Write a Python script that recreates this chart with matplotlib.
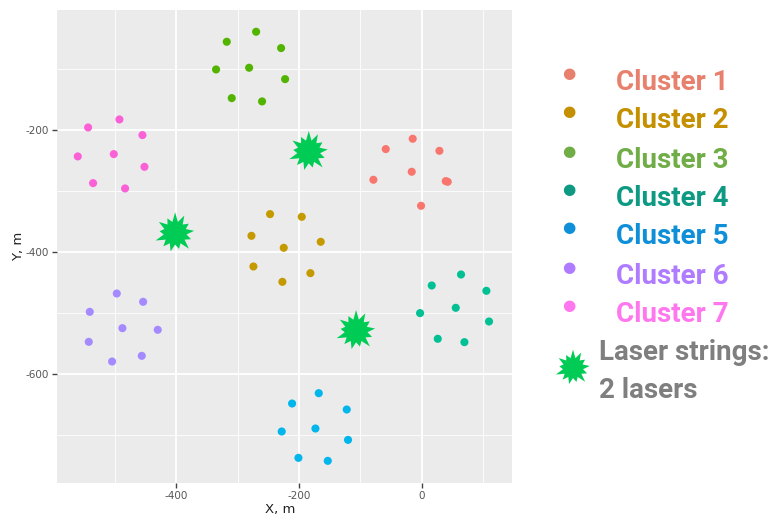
import numpy as np
import matplotlib
matplotlib.use("Agg")
import matplotlib.pyplot as plt
from matplotlib.path import Path
from matplotlib.ticker import MultipleLocator

plt.rcParams["axes.unicode_minus"] = False

# ---- data ----
cluster_names = ["Cluster 1", "Cluster 2", "Cluster 3", "Cluster 4",
                 "Cluster 5", "Cluster 6", "Cluster 7"]
c1_x = [-14.7, -58.6, 28.8, -16.3, -78.7, 39.1, 42.3, -1.1]
c1_y = [-214.7, -231.6, -234.4, -268.7, -281.8, -284.0, -285.1, -324.4]
c2_x = [-247.0, -195.4, -277.3, -164.5, -224.7, -274.1, -181.3, -226.9]
c2_y = [-338.0, -342.4, -373.5, -383.3, -393.1, -423.7, -434.6, -448.8]
c3_x = [-269.7, -317.5, -229.0, -334.9, -281.1, -222.5, -309.4, -260.0]
c3_y = [-39.6, -56.0, -66.3, -101.3, -98.5, -117.1, -148.2, -153.6]
c4_x = [64.0, 16.3, 105.3, 55.4, -2.7, 109.6, 26.1, 69.5]
c4_y = [-436.8, -454.8, -463.5, -491.3, -500.0, -513.7, -542.0, -547.5]
c5_x = [-167.7, -211.1, -122.1, -228.0, -173.1, -120.0, -200.8, -153.0]
c5_y = [-631.0, -647.9, -657.7, -693.7, -688.8, -707.4, -736.8, -741.7]
c6_x = [-496.6, -453.7, -540.6, -487.4, -429.9, -542.2, -455.9, -504.2]
c6_y = [-467.9, -481.5, -497.9, -524.6, -527.3, -547.0, -569.9, -579.2]
c7_x = [-492.3, -543.3, -454.8, -560.1, -501.5, -451.5, -535.2, -483.1]
c7_y = [-183.1, -196.2, -208.7, -243.6, -239.8, -260.6, -287.3, -296.0]
laser_x = [-184.0, -401.6, -106.9]
laser_y = [-236.0, -369.1, -529.0]
laser_label = ["Laser strings:", "2 lasers"]

xs = [c1_x, c2_x, c3_x, c4_x, c5_x, c6_x, c7_x]
ys = [c1_y, c2_y, c3_y, c4_y, c5_y, c6_y, c7_y]
point_colors = ["#F8766D", "#C49A00", "#53B400", "#00C094",
                "#00B6EB", "#A58AFF", "#FB61D7"]
legend_colors = ["#E8806E", "#C49000", "#70AD47", "#0E9A82",
                 "#0E8FD8", "#B07CFF", "#FF77EE"]

# explosion marker shape
n_spikes = 13
radii_out = [1.0, 0.8, 0.95, 0.75, 1.0, 0.85, 0.9, 0.78, 1.0, 0.82, 0.92, 0.8, 0.95]
verts = []
for i in range(n_spikes):
    a_out = 2 * np.pi * i / n_spikes + np.pi / 2
    a_in = 2 * np.pi * (i + 0.5) / n_spikes + np.pi / 2
    verts.append((radii_out[i] * np.cos(a_out), radii_out[i] * np.sin(a_out)))
    verts.append((0.55 * np.cos(a_in), 0.55 * np.sin(a_in)))
verts.append(verts[0])
codes = [Path.MOVETO] + [Path.LINETO] * (len(verts) - 2) + [Path.CLOSEPOLY]
star_path = Path(verts, codes)
star_color = "#00CC55"

# ---- figure ----
fig = plt.figure(figsize=(7.74, 5.15), dpi=100)
ax = fig.add_axes([0.0736, 0.0621, 0.5879, 0.9185])
ax.set_facecolor("#EBEBEB")
for s in ax.spines.values():
    s.set_visible(False)

ax.set_xlim(-594, 147)
ax.set_ylim(-778, -4)
ax.xaxis.set_major_locator(MultipleLocator(200))
ax.xaxis.set_minor_locator(MultipleLocator(100))
ax.yaxis.set_major_locator(MultipleLocator(200))
ax.yaxis.set_minor_locator(MultipleLocator(100))
ax.grid(which="major", color="white", linewidth=1.3)
ax.grid(which="minor", color="white", linewidth=0.6)
ax.set_axisbelow(True)
ax.tick_params(which="major", length=3.5, color="#444444", width=1.0,
               labelsize=7.5, labelcolor="#555555", pad=2)
ax.tick_params(which="minor", length=0)

for x, y, c in zip(xs, ys, point_colors):
    ax.scatter(x, y, s=34, color=c, edgecolors="none", zorder=3)
ax.scatter(laser_x, laser_y, marker=star_path, s=900, color=star_color,
           edgecolors="none", zorder=4)

ax.set_xlabel("X, m", fontsize=9.5, color="#222222")
ax.set_ylabel("Y, m", fontsize=9.5, color="#222222", labelpad=1)
ax.xaxis.set_label_coords(0.49, -0.056, transform=ax.transAxes)
ax.xaxis.label.set_va("center")

# ---- legend (manual, figure coords) ----
fig_w, fig_h = 774, 515
dot_x = 569
text_x = 616
row_y = [74, 112, 151, 189, 227, 267, 305]
for name, c, yy in zip(cluster_names, legend_colors, row_y):
    fig.text(dot_x / fig_w, 1 - yy / fig_h, "\u25CF", color=c, fontsize=11,
             ha="center", va="center", family="DejaVu Sans")
    fig.text(text_x / fig_w, 1 - (yy + 9) / fig_h, name, color=c,
             fontsize=20, fontweight="bold", family="Roboto",
             ha="left", va="center")

leg_ax = fig.add_axes([548 / fig_w, 1 - 388 / fig_h, 50 / fig_w, 40 / fig_h])
leg_ax.set_xlim(0, 1)
leg_ax.set_ylim(0, 1)
leg_ax.axis("off")
leg_ax.scatter([0.5], [0.5], marker=star_path, s=700, color=star_color,
               edgecolors="none")
fig.text(599 / fig_w, 1 - 353 / fig_h, laser_label[0], color="#7F7F7F",
         fontsize=20, fontweight="bold", family="Roboto", ha="left", va="center")
fig.text(599 / fig_w, 1 - 390 / fig_h, laser_label[1], color="#7F7F7F",
         fontsize=20, fontweight="bold", family="Roboto", ha="left", va="center")

fig.savefig("out.png", dpi=100)
